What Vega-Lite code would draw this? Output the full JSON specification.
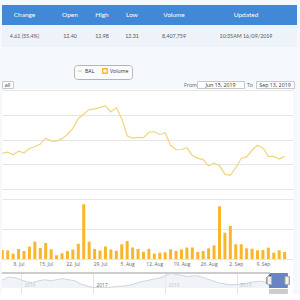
{
  "$schema": "https://vega.github.io/schema/vega-lite/v6.json",
  "padding": {"top": 5, "left": 0, "right": 0, "bottom": 0},
  "background": "#f5f8fc",
  "config": {"view": {"stroke": null}, "font": "Open Sans"},
  "bounds": "full",
  "spacing": 0,
  "resolve": {"scale": {"x": "independent", "y": "independent", "color": "independent", "stroke": "independent", "fill": "independent", "shape": "independent"}, "legend": {"color": "independent", "stroke": "independent", "fill": "independent", "shape": "independent"}},
  "vconcat": [
    {
      "bounds": "flush",
      "spacing": 0,
      "hconcat": [
        {"width": 45, "height": 20, "view": {"fill": "#4189d6", "stroke": null}, "data": {"values": [{"label": "Change"}]}, "mark": {"type": "text", "font": "Lato", "fontSize": 6.5, "color": "#ffffff"}, "encoding": {"text": {"field": "label", "type": "nominal"}}},
        {"width": 46, "height": 20, "view": {"fill": "#4189d6", "stroke": null}, "data": {"values": [{"label": "Open"}]}, "mark": {"type": "text", "font": "Lato", "fontSize": 6.5, "color": "#ffffff"}, "encoding": {"text": {"field": "label", "type": "nominal"}}},
        {"width": 18, "height": 20, "view": {"fill": "#4189d6", "stroke": null}, "data": {"values": [{"label": "High"}]}, "mark": {"type": "text", "font": "Lato", "fontSize": 6.5, "color": "#ffffff"}, "encoding": {"text": {"field": "label", "type": "nominal"}}},
        {"width": 42, "height": 20, "view": {"fill": "#4189d6", "stroke": null}, "data": {"values": [{"label": "Low"}]}, "mark": {"type": "text", "font": "Lato", "fontSize": 6.5, "color": "#ffffff"}, "encoding": {"text": {"field": "label", "type": "nominal"}}},
        {"width": 42, "height": 20, "view": {"fill": "#4189d6", "stroke": null}, "data": {"values": [{"label": "Volume"}]}, "mark": {"type": "text", "font": "Lato", "fontSize": 6.5, "color": "#ffffff"}, "encoding": {"text": {"field": "label", "type": "nominal"}}},
        {"width": 102, "height": 20, "view": {"fill": "#4189d6", "stroke": null}, "data": {"values": [{"label": "Updated"}]}, "mark": {"type": "text", "font": "Lato", "fontSize": 6.5, "color": "#ffffff"}, "encoding": {"text": {"field": "label", "type": "nominal"}}}
      ]
    },
    {
      "bounds": "flush",
      "spacing": 0,
      "hconcat": [
        {"width": 45, "height": 22, "view": {"fill": "#eef3fa", "stroke": null}, "data": {"values": [{"label": "4.61 (55.4%)"}]}, "mark": {"type": "text", "font": "Lato", "fontSize": 5.3, "color": "#555555"}, "encoding": {"text": {"field": "label", "type": "nominal"}}},
        {"width": 46, "height": 22, "view": {"fill": "#eef3fa", "stroke": null}, "data": {"values": [{"label": "12.40"}]}, "mark": {"type": "text", "font": "Lato", "fontSize": 5.3, "color": "#555555"}, "encoding": {"text": {"field": "label", "type": "nominal"}}},
        {"width": 18, "height": 22, "view": {"fill": "#eef3fa", "stroke": null}, "data": {"values": [{"label": "12.98"}]}, "mark": {"type": "text", "font": "Lato", "fontSize": 5.3, "color": "#555555"}, "encoding": {"text": {"field": "label", "type": "nominal"}}},
        {"width": 42, "height": 22, "view": {"fill": "#eef3fa", "stroke": null}, "data": {"values": [{"label": "12.31"}]}, "mark": {"type": "text", "font": "Lato", "fontSize": 5.3, "color": "#555555"}, "encoding": {"text": {"field": "label", "type": "nominal"}}},
        {"width": 42, "height": 22, "view": {"fill": "#eef3fa", "stroke": null}, "data": {"values": [{"label": "8,407,759"}]}, "mark": {"type": "text", "font": "Lato", "fontSize": 5.3, "color": "#555555"}, "encoding": {"text": {"field": "label", "type": "nominal"}}},
        {"width": 102, "height": 22, "view": {"fill": "#eef3fa", "stroke": null}, "data": {"values": [{"label": "10:35AM 16/09/2019"}]}, "mark": {"type": "text", "font": "Lato", "fontSize": 5.3, "color": "#555555"}, "encoding": {"text": {"field": "label", "type": "nominal"}}}
      ]
    },
    {
      "width": 300,
      "height": 33,
      "view": {"fill": null, "stroke": null},
      "data": {"values": [{"series": "BAL"}, {"series": "Volume"}]},
      "mark": {"type": "point", "opacity": 0, "strokeWidth": 1.3},
      "encoding": {
        "stroke": {"field": "series", "type": "nominal", "scale": {"domain": ["BAL", "Volume"], "range": ["#f1d47b", "#f9b62b"]},
          "legend": {"orient": "none", "legendX": 72, "legendY": 18, "direction": "horizontal", "gridAlign": "none", "title": null, "labelFontSize": 5.2, "labelColor": "#333333", "labelOffset": 2, "symbolSize": 20, "strokeColor": "#b5b5b5", "cornerRadius": 3, "padding": 3, "fillColor": "#f9fbfd", "columnPadding": 5, "symbolStrokeWidth": 1.3, "symbolOpacity": 1, "symbolFillColor": "#f9b62b"}},
        "shape": {"field": "series", "type": "nominal", "scale": {"domain": ["BAL", "Volume"], "range": ["stroke", "square"]}}
      }
    },
    {
      "bounds": "flush",
      "spacing": 0,
      "hconcat": [
        {"width": 11, "height": 7, "view": {"fill": "#ffffff", "stroke": "#c8c8c8"}, "data": {"values": [{"label": "all"}]}, "mark": {"type": "text", "fontSize": 5.3, "color": "#333333"}, "encoding": {"text": {"field": "label", "type": "nominal"}}},
        {"width": 171, "height": 7, "view": {"fill": null, "stroke": null}, "data": {"values": [{"label": ""}]}, "mark": {"type": "text", "fontSize": 5.3}, "encoding": {"text": {"field": "label", "type": "nominal"}}},
        {"width": 13, "height": 7, "view": {"fill": null, "stroke": null}, "data": {"values": [{"label": "From"}]}, "mark": {"type": "text", "fontSize": 5.3, "color": "#666666"}, "encoding": {"text": {"field": "label", "type": "nominal"}}},
        {"width": 47, "height": 7, "view": {"fill": "#ffffff", "stroke": "#c8c8c8"}, "data": {"values": [{"label": "Jun 15, 2019"}]}, "mark": {"type": "text", "fontSize": 5.3, "color": "#333333"}, "encoding": {"text": {"field": "label", "type": "nominal"}}},
        {"width": 12, "height": 7, "view": {"fill": null, "stroke": null}, "data": {"values": [{"label": "To"}]}, "mark": {"type": "text", "fontSize": 5.3, "color": "#666666"}, "encoding": {"text": {"field": "label", "type": "nominal"}}},
        {"width": 38, "height": 7, "view": {"fill": "#ffffff", "stroke": "#c8c8c8"}, "data": {"values": [{"label": "Sep 13, 2019"}]}, "mark": {"type": "text", "fontSize": 5.3, "color": "#333333"}, "encoding": {"text": {"field": "label", "type": "nominal"}}}
      ]
    },
    {
      "width": 291,
      "height": 182,
      "view": {"fill": "#ffffff", "stroke": null},
      "data": {"values": [
        {"t": 12, "date": "2019-07-03", "close": 8.45, "volume": 600000},
        {"t": 13, "date": "2019-07-04", "close": 8.49, "volume": 570000},
        {"t": 14, "date": "2019-07-05", "close": 8.39, "volume": 353000},
        {"t": 15, "date": "2019-07-08", "close": 8.53, "volume": 667000},
        {"t": 16, "date": "2019-07-09", "close": 8.47, "volume": 533000},
        {"t": 17, "date": "2019-07-10", "close": 8.64, "volume": 820000},
        {"t": 18, "date": "2019-07-11", "close": 8.71, "volume": 1153000},
        {"t": 19, "date": "2019-07-12", "close": 8.82, "volume": 733000},
        {"t": 20, "date": "2019-07-15", "close": 9.06, "volume": 1067000},
        {"t": 21, "date": "2019-07-16", "close": 8.94, "volume": 647000},
        {"t": 22, "date": "2019-07-17", "close": 8.94, "volume": 247000},
        {"t": 23, "date": "2019-07-18", "close": 9.04, "volume": 380000},
        {"t": 24, "date": "2019-07-19", "close": 9.21, "volume": 533000},
        {"t": 25, "date": "2019-07-22", "close": 9.46, "volume": 633000},
        {"t": 26, "date": "2019-07-23", "close": 9.86, "volume": 1020000},
        {"t": 27, "date": "2019-07-24", "close": 10.04, "volume": 3647000},
        {"t": 28, "date": "2019-07-25", "close": 10.22, "volume": 1153000},
        {"t": 29, "date": "2019-07-26", "close": 10.25, "volume": 667000},
        {"t": 30, "date": "2019-07-29", "close": 10.31, "volume": 567000},
        {"t": 31, "date": "2019-07-30", "close": 10.37, "volume": 833000},
        {"t": 32, "date": "2019-07-31", "close": 10.12, "volume": 633000},
        {"t": 33, "date": "2019-08-01", "close": 10.30, "volume": 553000},
        {"t": 34, "date": "2019-08-02", "close": 9.85, "volume": 980000},
        {"t": 35, "date": "2019-08-05", "close": 9.16, "volume": 1200000},
        {"t": 36, "date": "2019-08-06", "close": 9.06, "volume": 767000},
        {"t": 37, "date": "2019-08-07", "close": 9.09, "volume": 667000},
        {"t": 38, "date": "2019-08-08", "close": 9.08, "volume": 480000},
        {"t": 39, "date": "2019-08-09", "close": 9.30, "volume": 680000},
        {"t": 40, "date": "2019-08-12", "close": 9.32, "volume": 353000},
        {"t": 41, "date": "2019-08-13", "close": 9.21, "volume": 420000},
        {"t": 42, "date": "2019-08-14", "close": 9.28, "volume": 447000},
        {"t": 43, "date": "2019-08-15", "close": 8.77, "volume": 647000},
        {"t": 44, "date": "2019-08-16", "close": 8.59, "volume": 533000},
        {"t": 45, "date": "2019-08-19", "close": 8.60, "volume": 633000},
        {"t": 46, "date": "2019-08-20", "close": 8.67, "volume": 767000},
        {"t": 47, "date": "2019-08-21", "close": 8.36, "volume": 767000},
        {"t": 48, "date": "2019-08-22", "close": 8.25, "volume": 467000},
        {"t": 49, "date": "2019-08-23", "close": 8.19, "volume": 533000},
        {"t": 50, "date": "2019-08-26", "close": 7.93, "volume": 713000},
        {"t": 51, "date": "2019-08-27", "close": 8.05, "volume": 913000},
        {"t": 52, "date": "2019-08-28", "close": 7.94, "volume": 3513000},
        {"t": 53, "date": "2019-08-29", "close": 7.60, "volume": 1753000},
        {"t": 54, "date": "2019-08-30", "close": 7.55, "volume": 2200000},
        {"t": 55, "date": "2019-09-02", "close": 7.86, "volume": 980000},
        {"t": 56, "date": "2019-09-03", "close": 8.24, "volume": 980000},
        {"t": 57, "date": "2019-09-04", "close": 8.30, "volume": 713000},
        {"t": 58, "date": "2019-09-05", "close": 8.57, "volume": 687000},
        {"t": 59, "date": "2019-09-06", "close": 8.77, "volume": 580000},
        {"t": 60, "date": "2019-09-09", "close": 8.66, "volume": 600000},
        {"t": 61, "date": "2019-09-10", "close": 8.32, "volume": 753000},
        {"t": 62, "date": "2019-09-11", "close": 8.32, "volume": 420000},
        {"t": 63, "date": "2019-09-12", "close": 8.21, "volume": 580000},
        {"t": 64, "date": "2019-09-13", "close": 8.33, "volume": 467000}
      ]},
      "layer": [
        {
          "mark": {"type": "bar", "size": 3, "clip": true},
          "encoding": {
            "x": {"field": "t", "type": "quantitative", "scale": {"domain": [12.87, 64.62], "nice": false, "zero": false},
              "axis": {"values": [15, 20, 25, 30, 35, 40, 45, 50, 55, 60], "labelExpr": "['8. Jul','15. Jul','22. Jul','29. Jul','5. Aug','12. Aug','19. Aug','26. Aug','2. Sep','9. Sep'][round((datum.value-15)/5)]", "labelOverlap": false, "labelSeparation": 0, "grid": false, "domain": false, "ticks": false, "offset": -12, "labelFontSize": 4.9, "labelColor": "#666666", "labelPadding": 2.5, "title": null}},
            "y": {"field": "volume", "type": "quantitative", "scale": {"domain": [-800000, 11333333], "nice": false, "zero": false},
              "axis": {"orient": "right", "values": [0, 2000000, 4000000], "grid": true, "gridColor": "#e6e6e6", "labels": false, "ticks": false, "domain": false, "title": null}},
            "y2": {"datum": 0},
            "color": {"value": "#f9b62b"}
          }
        },
        {
          "mark": {"type": "line", "clip": true, "strokeWidth": 1.2, "color": "#f1d47b"},
          "encoding": {
            "x": {"field": "t", "type": "quantitative", "axis": {"values": [15, 20, 25, 30, 35, 40, 45, 50, 55, 60], "labelExpr": "['8. Jul','15. Jul','22. Jul','29. Jul','5. Aug','12. Aug','19. Aug','26. Aug','2. Sep','9. Sep'][round((datum.value-15)/5)]", "labelOverlap": false, "labelSeparation": 0, "grid": false, "domain": false, "ticks": false, "offset": -12, "labelFontSize": 4.9, "labelColor": "#666666", "labelPadding": 2.5, "title": null}},
            "y": {"field": "close", "type": "quantitative", "scale": {"domain": [3.676, 11.053], "nice": false, "zero": false},
              "axis": {"orient": "left", "values": [7, 8, 9, 10, 11], "grid": true, "gridColor": "#e6e6e6", "labels": false, "ticks": false, "domain": false, "title": null}}
          }
        }
      ],
      "resolve": {"scale": {"y": "independent"}, "axis": {"y": "independent"}}
    },
    {
      "width": 291,
      "height": 23,
      "view": {"fill": "#ffffff", "stroke": null},
      "data": {"values": [
        {"date": "2015-09-27", "close": 11.5}, {"date": "2015-10-31", "close": 14.5}, {"date": "2015-11-30", "close": 14}, {"date": "2015-12-31", "close": 12},
        {"date": "2016-01-31", "close": 10}, {"date": "2016-02-29", "close": 9}, {"date": "2016-03-31", "close": 11}, {"date": "2016-04-30", "close": 12},
        {"date": "2016-05-31", "close": 11}, {"date": "2016-06-30", "close": 12}, {"date": "2016-07-31", "close": 13}, {"date": "2016-08-31", "close": 12},
        {"date": "2016-09-30", "close": 11}, {"date": "2016-10-31", "close": 8}, {"date": "2016-11-30", "close": 6}, {"date": "2016-12-31", "close": 4.5},
        {"date": "2017-01-31", "close": 4.5}, {"date": "2017-02-28", "close": 4.6}, {"date": "2017-03-31", "close": 4.7}, {"date": "2017-04-30", "close": 5.5},
        {"date": "2017-05-31", "close": 5.8}, {"date": "2017-06-30", "close": 6.5}, {"date": "2017-07-31", "close": 8}, {"date": "2017-08-31", "close": 10},
        {"date": "2017-09-30", "close": 11}, {"date": "2017-10-31", "close": 12.5}, {"date": "2017-11-30", "close": 13.5}, {"date": "2017-12-31", "close": 15.5},
        {"date": "2018-01-31", "close": 18.5}, {"date": "2018-02-28", "close": 17}, {"date": "2018-03-31", "close": 16}, {"date": "2018-04-30", "close": 15},
        {"date": "2018-05-31", "close": 16}, {"date": "2018-06-30", "close": 15}, {"date": "2018-07-31", "close": 13}, {"date": "2018-08-31", "close": 11},
        {"date": "2018-09-30", "close": 9}, {"date": "2018-10-31", "close": 8}, {"date": "2018-11-30", "close": 7}, {"date": "2018-12-31", "close": 7.5},
        {"date": "2019-01-31", "close": 7.5}, {"date": "2019-02-28", "close": 9}, {"date": "2019-03-31", "close": 10}, {"date": "2019-04-30", "close": 10.5},
        {"date": "2019-05-31", "close": 9.5}, {"date": "2019-06-30", "close": 9}, {"date": "2019-07-31", "close": 10.2}, {"date": "2019-08-31", "close": 7.7},
        {"date": "2019-09-13", "close": 8.3}
      ]},
      "layer": [
        {
          "mark": {"type": "area", "color": "#e9eef5", "line": {"color": "#c3ccd8", "strokeWidth": 0.8}},
          "encoding": {
            "x": {"field": "date", "type": "temporal", "scale": {"type": "utc", "domain": ["2015-09-27", "2019-10-13"], "nice": false},
              "axis": {"values": ["2016-01-01", "2017-01-01", "2018-01-01", "2019-01-01"], "format": "%Y", "labelAlign": "left", "labelOffset": 3, "offset": -12, "labelPadding": 0, "labelBaseline": "top", "labelFontSize": 4.9, "labelColor": "#666666", "grid": true, "gridColor": "#e6e6e6", "domain": false, "ticks": false, "title": null, "labelOverlap": false}},
            "y": {"field": "close", "type": "quantitative", "scale": {"domain": [-1.8, 20.43], "nice": false, "zero": false}, "axis": null},
            "y2": {"datum": 4}
          }
        },
        {
          "mark": {"type": "rect", "fill": "#6685c2", "fillOpacity": 0.3},
          "encoding": {
            "x": {"datum": {"year": 2019, "month": 6, "date": 15}, "type": "temporal"},
            "x2": {"datum": {"year": 2019, "month": 9, "date": 13}},
            "y": {"datum": 18.5, "type": "quantitative"},
            "y2": {"datum": 4}
          }
        },
        {
          "mark": {"type": "rule", "color": "#cccccc", "strokeWidth": 0.8},
          "encoding": {
            "x": {"datum": {"year": 2015, "month": 9, "date": 27}, "type": "temporal"},
            "x2": {"datum": {"year": 2019, "month": 6, "date": 15}},
            "y": {"datum": 18.5, "type": "quantitative"}
          }
        },
        {
          "mark": {"type": "rect", "fill": "#cccccc"},
          "encoding": {
            "x": {"datum": {"year": 2019, "month": 6, "date": 15}, "type": "temporal"},
            "x2": {"datum": {"year": 2019, "month": 9, "date": 13}},
            "y": {"datum": 3.0, "type": "quantitative"},
            "y2": {"datum": -1.8}
          }
        },
        {
          "mark": {"type": "rect", "fill": "#f2f2f2", "stroke": "#999999", "strokeWidth": 0.6, "width": 4, "height": 8, "cornerRadius": 1},
          "encoding": {
            "x": {"datum": {"year": 2019, "month": 6, "date": 15}, "type": "temporal"},
            "y": {"datum": 11.25, "type": "quantitative"}
          }
        },
        {
          "mark": {"type": "rect", "fill": "#f2f2f2", "stroke": "#999999", "strokeWidth": 0.6, "width": 4, "height": 8, "cornerRadius": 1},
          "encoding": {
            "x": {"datum": {"year": 2019, "month": 9, "date": 13}, "type": "temporal"},
            "y": {"datum": 11.25, "type": "quantitative"}
          }
        }
      ]
    }
  ]
}
